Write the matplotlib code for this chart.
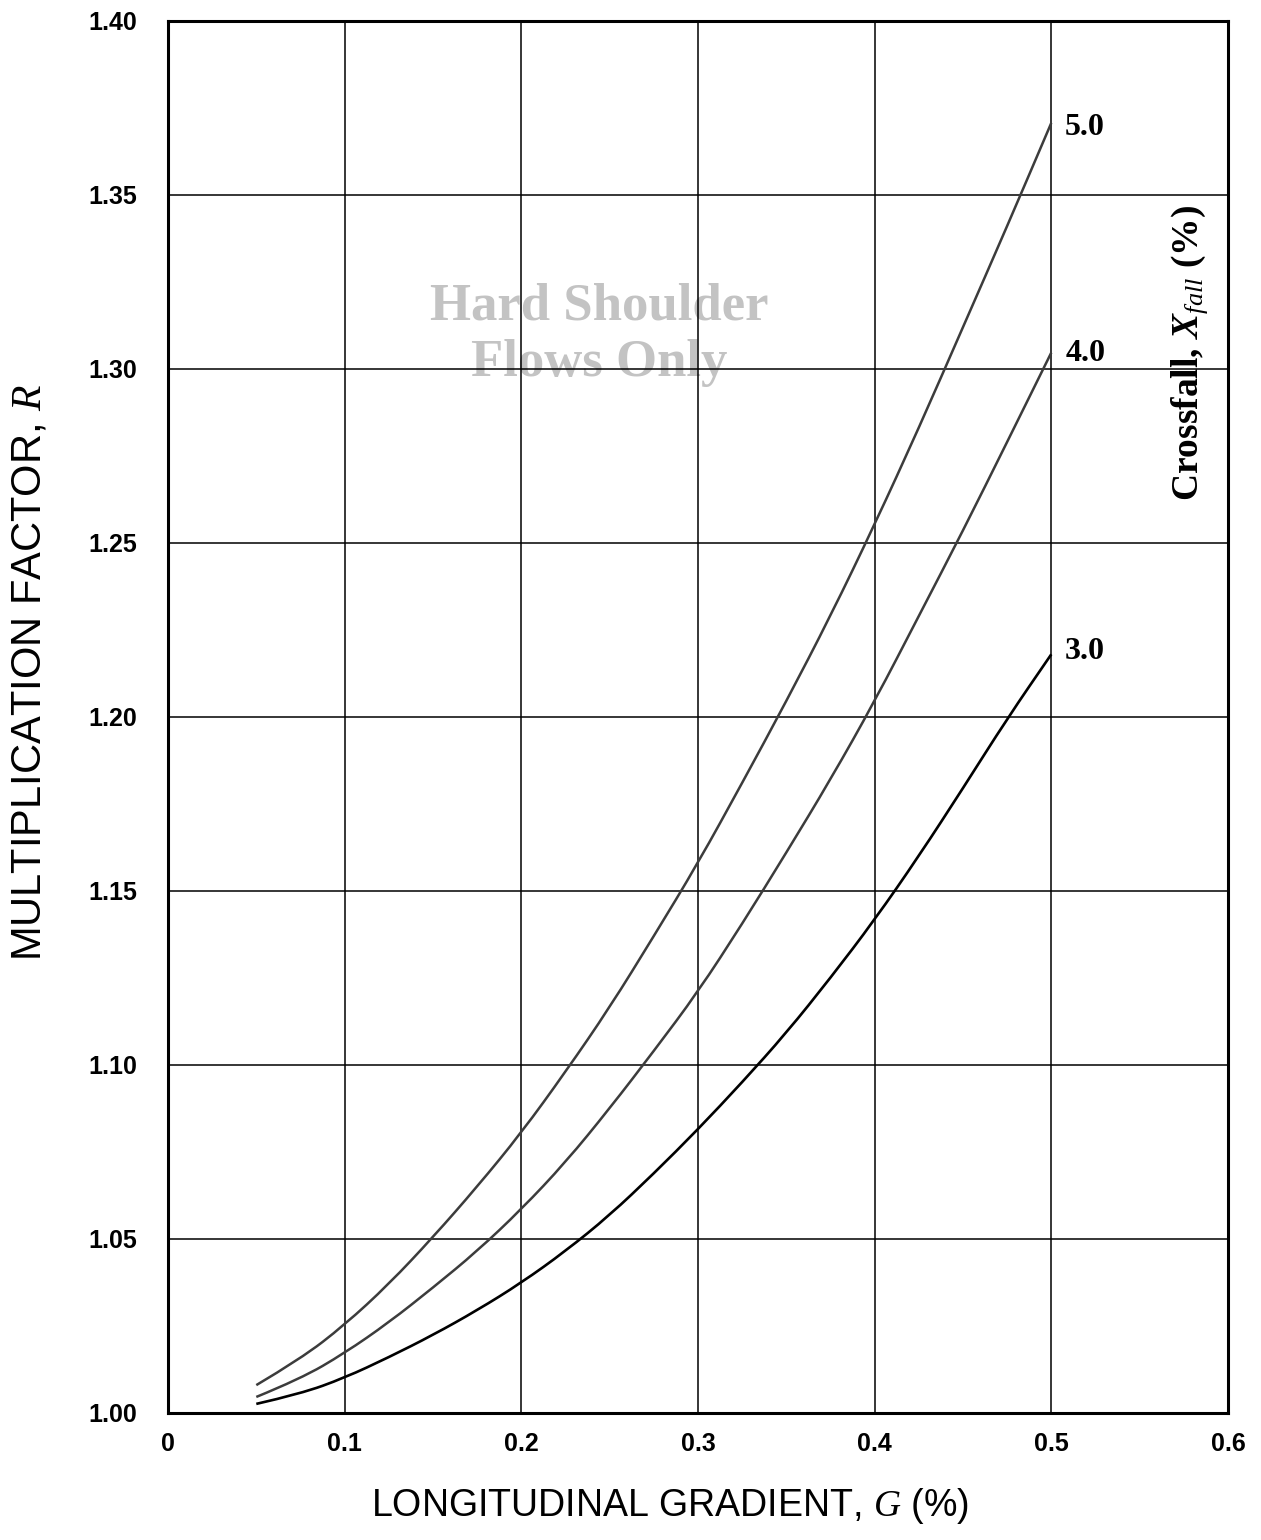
import numpy as np
import matplotlib.pyplot as plt
from matplotlib.path import Path
from matplotlib.patches import PathPatch

plt.rcParams['mathtext.fontset'] = 'custom'
plt.rcParams['mathtext.it'] = 'Liberation Serif:italic'
plt.rcParams['mathtext.bf'] = 'Liberation Serif:bold:italic'
plt.rcParams['mathtext.rm'] = 'Liberation Serif'

# longitudinal gradient G (%)
grad = [0.05, 0.075, 0.10, 0.125, 0.15, 0.175, 0.20, 0.225, 0.25, 0.275,
        0.30, 0.325, 0.35, 0.375, 0.40, 0.425, 0.45, 0.475, 0.50]

# multiplication factor R for each crossfall
r_5 = [1.0080, 1.0155, 1.0253, 1.0370, 1.0505, 1.0650, 1.0805, 1.0980, 1.1165, 1.1370,
       1.1580, 1.1810, 1.2045, 1.2290, 1.2553, 1.2830, 1.3120, 1.3410, 1.3707]
r_4 = [1.0046, 1.0098, 1.0172, 1.0260, 1.0360, 1.0465, 1.0585, 1.0720, 1.0875, 1.1040,
       1.1210, 1.1405, 1.1610, 1.1820, 1.2045, 1.2290, 1.2535, 1.2790, 1.3047]
r_3 = [1.0026, 1.0055, 1.0101, 1.0160, 1.0224, 1.0295, 1.0374, 1.0465, 1.0568, 1.0688,
       1.0815, 1.0950, 1.1092, 1.1250, 1.1417, 1.1600, 1.1795, 1.1995, 1.2180]

curves = [("5.0", r_5, "#3c3c3c", 1.8, -3), ("4.0", r_4, "#3c3c3c", 1.8, -1),
          ("3.0", r_3, "black", 1.9, 2)]


def smooth_path(x, y):
    # quadratic bezier through midpoints, data points as control points
    verts = [(x[0], y[0])]
    codes = [Path.MOVETO]
    for i in range(1, len(x) - 1):
        verts += [(x[i], y[i]), ((x[i] + x[i + 1]) / 2, (y[i] + y[i + 1]) / 2)]
        codes += [Path.CURVE3, Path.CURVE3]
    verts.append((x[-1], y[-1]))
    codes.append(Path.LINETO)
    return Path(verts, codes)


fig = plt.figure(figsize=(12.61, 15.40), dpi=100)
ax = fig.add_axes([0.1332, 0.0825, 0.8406, 0.9039])

ax.set_xlim(0, 0.6)
ax.set_ylim(1.0, 1.4)
ax.set_xticks(np.arange(0, 0.61, 0.1))
ax.set_yticks(np.arange(1.0, 1.401, 0.05))
ax.set_xticklabels(["0", "0.1", "0.2", "0.3", "0.4", "0.5", "0.6"])
ax.set_yticklabels([f"{v:.2f}" for v in np.arange(1.0, 1.401, 0.05)])
ax.tick_params(length=0, labelsize=18, pad=14)
ax.tick_params(axis='y', pad=22)
for lab in ax.get_xticklabels() + ax.get_yticklabels():
    lab.set_fontweight('bold')
    lab.set_fontfamily('Liberation Sans')

ax.set_axisbelow('line')
ax.grid(True, color='black', linewidth=1.1, zorder=1.5)
for s in ax.spines.values():
    s.set_linewidth(2.2)
    s.set_zorder(3)

ax.text(0.244, 1.3098, "Hard Shoulder\nFlows Only", ha='center', va='center',
        fontsize=38, fontweight='bold', family='Liberation Serif', color='#c3c3c3',
        linespacing=1.22, zorder=1)

for name, vals, col, lw, dy in curves:
    ax.add_patch(PathPatch(smooth_path(grad, vals), fill=False, edgecolor=col,
                           linewidth=lw, zorder=2))
    ax.annotate(name, xy=(grad[-1], vals[-1]), xytext=(10, dy), textcoords='offset points',
                ha='left', va='center', fontsize=23, fontweight='bold',
                family='Liberation Serif')

fig.text(1190 / 1261, 1 - 353 / 1540, r"Crossfall, $\mathbf{X}_{fall}$ (%)", rotation=90,
         ha='center', va='center', fontsize=27, fontweight='bold', family='Liberation Serif')

fig.text(670 / 1261, 1 - 1506 / 1540, "LONGITUDINAL GRADIENT, $G$ (%)",
         ha='center', va='center', fontsize=27, family='Liberation Sans')
fig.text(30 / 1261, 1 - 672 / 1540, "MULTIPLICATION FACTOR, $R$", rotation=90,
         ha='center', va='center', fontsize=30, family='Liberation Sans')

fig.savefig("out.png", dpi=100)
